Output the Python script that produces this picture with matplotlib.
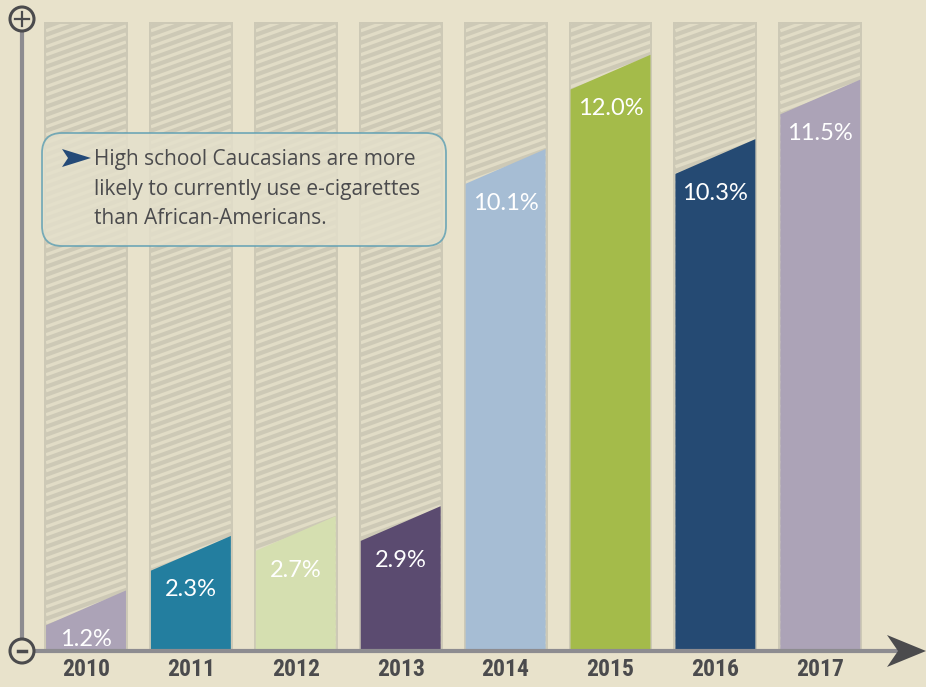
import matplotlib
matplotlib.use("Agg")
import matplotlib.pyplot as plt
import matplotlib.patches as mpatches
from matplotlib import font_manager
from matplotlib.transforms import IdentityTransform
import numpy as np

# data
years = ["2010", "2011", "2012", "2013", "2014", "2015", "2016", "2017"]
values = [1.2, 2.3, 2.7, 2.9, 10.1, 12.0, 10.3, 11.5]
bar_colors = ["#aca3b7", "#237e9f", "#d5dfb0", "#5b4b70", "#a6bdd4",
              "#a4bb4a", "#254a73", "#aca3b7"]
note_lines = ["High school Caucasians are more",
              "likely to currently use e-cigarettes",
              "than African-Americans."]

# style
BG = "#e8e2cb"
FRAME = "#cdc9b6"
STRIPE = "#e1dcc6"
AXIS = "#8d8c90"
DARK = "#4b4b4d"
NAVY = "#244a78"
TEAL_EDGE = "#5e9fb3"

W, H = 926, 687
PX_X = 104.9      # pixels per category
PX_Y = 49.6       # pixels per percentage point
X0 = 86           # pixel x of first bar centre
BASE = 650        # pixel y of baseline (from top)
HALF = 0.40       # half width of grey frame
IHALF = 0.381     # half width of coloured bar
TOP = (BASE - 22) / PX_Y
SLANT = 0.7

# condensed bold face for the year labels, if there is one
year_font = dict(family="DejaVu Sans", fontsize=14.5, fontweight="bold")
names = {f.name for f in font_manager.fontManager.ttflist}
for fam, size in [("Liberation Sans Narrow", 17), ("Roboto Condensed", 17),
                  ("Open Sans Condensed", 17), ("DejaVu Sans Condensed", 14.5)]:
    if fam in names:
        year_font = dict(family=fam, fontsize=size, fontweight="bold")
        break
else:
    for f in font_manager.fontManager.ttflist:
        if f.name == "DejaVu Sans" and f.stretch == "condensed" and f.weight in ("bold", 700):
            year_font = dict(family="DejaVu Sans", fontstretch="condensed",
                             fontsize=15, fontweight="bold")
            break

fig = plt.figure(figsize=(W / 100, H / 100), dpi=100)
fig.patch.set_facecolor(BG)
ax = fig.add_axes([0, 0, 1, 1])
ax.set_facecolor(BG)
ax.set_xlim(-X0 / PX_X, (W - X0) / PX_X)
ax.set_ylim(-(H - BASE) / PX_Y, BASE / PX_Y)
ax.axis("off")

ident = IdentityTransform()


def dpx(x, y):
    # pixel coordinates (from top-left) -> display coordinates
    return (x, H - y)


slope = 0.36 * PX_X / PX_Y
step = 8 / PX_Y

for i, (v, c) in enumerate(zip(values, bar_colors)):
    frame = mpatches.Rectangle((i - HALF, 0), 2 * HALF, TOP, fc=FRAME, ec="none", zorder=1)
    ax.add_patch(frame)
    inner = mpatches.Rectangle((i - IHALF, 0), 2 * IHALF, TOP - 0.05, fc="none", ec="none")
    ax.add_patch(inner)
    xs = np.array([i - IHALF, i + IHALF])
    for cc in np.arange(-slope * 2 * IHALF, TOP, step):
        ln, = ax.plot(xs, cc + slope * (xs - xs[0]), color=STRIPE, lw=2.4,
                      solid_capstyle="butt", zorder=2)
        ln.set_clip_path(inner)
    poly = mpatches.Polygon([(i - IHALF, 0), (i + IHALF, 0), (i + IHALF, v),
                             (i - IHALF, v - SLANT)], closed=True, fc=c, ec="none", zorder=3)
    ax.add_patch(poly)
    t = ax.text(i, max(v - SLANT - 0.39, 0.22), f"{v:.1f}%", ha="center", va="center",
                color="white", fontsize=17, family="Lato", zorder=4)
    t.set_clip_path(poly)
    ax.text(i, -(670 - BASE) / PX_Y, years[i], ha="center", va="center",
            color=DARK, zorder=4, **year_font)

# axes lines
ax.add_line(plt.Line2D([22, 22], [H - 30, H - 640], transform=ident, color=AXIS, lw=3, zorder=5))
ax.add_line(plt.Line2D([22, 898], [H - 651, H - 651], transform=ident, color=AXIS, lw=3, zorder=5))
arrow = [dpx(926, 651), dpx(887, 635), dpx(898, 651), dpx(887, 667)]
ax.add_patch(mpatches.Polygon(arrow, closed=True, transform=ident, fc=DARK, ec="none", zorder=6))

for cy in (19, 651):
    ax.add_patch(mpatches.Circle(dpx(22, cy), 12, transform=ident, fc=BG, ec=DARK,
                                 lw=2.2, zorder=6))
ax.add_line(plt.Line2D([15, 29], [H - 19, H - 19], transform=ident, color=DARK, lw=1.6, zorder=7))
ax.add_line(plt.Line2D([22, 22], [H - 12, H - 26], transform=ident, color=DARK, lw=1.6, zorder=7))
ax.add_line(plt.Line2D([18, 26], [H - 651, H - 651], transform=ident, color=DARK, lw=2.5, zorder=7))

# note box
box = mpatches.FancyBboxPatch(dpx(42, 246), 404, 113, boxstyle="round,pad=0,rounding_size=20",
                              transform=ident, fc="#e4e0cb", ec=TEAL_EDGE, lw=1.3,
                              alpha=0.82, zorder=8)
ax.add_patch(box)
flag = [dpx(91, 158), dpx(62, 149), dpx(68, 158), dpx(62, 167)]
ax.add_patch(mpatches.Polygon(flag, closed=True, transform=ident, fc=NAVY, ec="none", zorder=9))
for k, line in enumerate(note_lines):
    ax.text(94, H - (160 + 29 * k), line, transform=ident, ha="left", va="center",
            color=DARK, fontsize=15, family="Open Sans", zorder=9)

fig.savefig("out.png", dpi=100, facecolor=BG)
